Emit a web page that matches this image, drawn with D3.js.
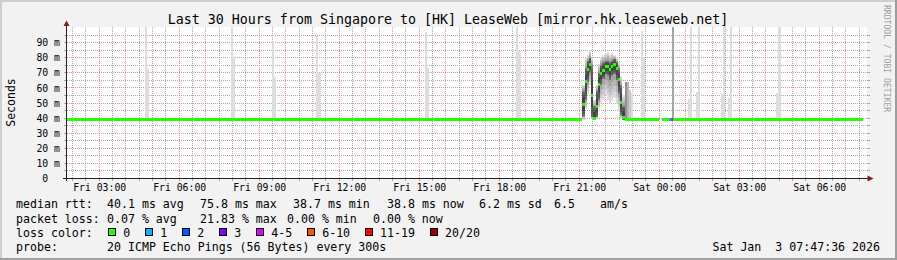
<!DOCTYPE html>
<html>
<head>
<meta charset="utf-8">
<script src="https://cdn.jsdelivr.net/npm/d3@7"></script>
<style>
  html, body { margin: 0; padding: 0; background: #f2f2f2; }
  svg { display: block; font-family: "DejaVu Sans Mono", monospace; }
  text { white-space: pre; }
</style>
</head>
<body>
<svg id="chart" width="897" height="260"></svg>
<script>
// ---- values ----
var title = "Last 30 Hours from Singapore to [HK] LeaseWeb [mirror.hk.leaseweb.net]";
var graphStart = "Fri 01:47:36", graphEnd = "Sat 07:47:36";

var yTicks = [0, 10, 20, 30, 40, 50, 60, 70, 80, 90];
var xTickLabels = ["Fri 03:00", "Fri 06:00", "Fri 09:00", "Fri 12:00", "Fri 15:00",
                   "Fri 18:00", "Fri 21:00", "Sat 00:00", "Sat 03:00", "Sat 06:00"];

// flat stretches of the median (ms) and lost pings per stretch
var runStart  = ["Fri 01:47", "Fri 22:42", "Sat 00:07", "Sat 00:22", "Sat 00:27", "Sat 00:32"];
var runEnd    = ["Fri 21:07", "Sat 00:00", "Sat 00:22", "Sat 00:27", "Sat 00:32", "Sat 07:38"];
var runMedian = [38.8, 38.8, 38.8, 38.8, 38.8, 38.8];
var runLoss   = [0, 0, 0, 1, 5, 0];

// the congestion in the evening, one entry per 5 minute step (ms)
var bumpTimes  = ["Fri 21:07", "Fri 21:12", "Fri 21:17", "Fri 21:22", "Fri 21:27", "Fri 21:32", "Fri 21:37",
                  "Fri 21:42", "Fri 21:47", "Fri 21:52", "Fri 21:57", "Fri 22:02", "Fri 22:07", "Fri 22:12",
                  "Fri 22:17", "Fri 22:22", "Fri 22:27", "Fri 22:32", "Fri 22:37"];
var bumpMedian = [49, 64, 72.5, 75.8, 54.7, 39.7, 47.5, 62.4, 69.5, 71.5, 74.2, 74.2, 72, 74.5, 75.5, 72.7, 65.3, 50.6, 40.6];
var bumpLow    = [38.8, 46, 56, 62, 39.2, 38.8, 39.5, 46, 50, 52, 55, 52, 50, 51, 53, 50, 45, 39.5, 38.8];
var bumpQ1     = [41, 52, 64, 70, 40.5, 38.9, 41, 52, 62, 66, 69, 68, 65, 68, 69, 65, 56, 42, 39];
var bumpQ3     = [58, 73, 78, 80, 75, 48, 58, 70, 75, 77, 78, 78, 77, 78, 79, 77, 73, 62, 48];
var bumpHigh   = [62, 80, 82, 85, 80, 52, 62, 76, 80, 82, 83, 84, 82, 83, 82, 80, 77, 68, 55];

// single steps where some pings came back slow: top of the smoke (ms) and how many pings
var spikeBase  = 38.8;
var spikeTimes = ["Fri 04:43", "Fri 04:48", "Fri 07:56", "Fri 08:01", "Fri 09:28", "Fri 09:33",
                  "Fri 11:08", "Fri 11:13", "Fri 15:13", "Fri 15:18", "Fri 18:38", "Fri 18:43",
                  "Fri 22:42", "Fri 22:47", "Fri 22:52", "Fri 22:57", "Fri 23:18", "Fri 23:23",
                  "Sat 00:28", "Sat 01:04", "Sat 01:09", "Sat 01:22", "Sat 01:27", "Sat 02:18",
                  "Sat 02:23", "Sat 02:34", "Sat 02:39", "Sat 04:23", "Sat 04:28"];
var spikeTops  = [105, 72.6, 105, 80.3, 90.2, 67, 94.6, 69.7, 97.2, 73, 105, 84.6,
                  64.1, 64, 58.6, 56.8, 97.9, 80.7,
                  105, 52.6, 105, 57.5, 105, 56, 105, 53.5, 105, 56.8, 105];
var spikePings = [1, 1, 1, 1, 1, 1, 1, 1, 1, 1, 1, 1,
                  5, 3, 2, 1, 1, 1,
                  4, 1, 1, 1, 1, 1, 1, 1, 1, 1, 1];

// legend
var lossLabels = ["0", "1", "2", "3", "4-5", "6-10", "11-19", "20/20"];
var lossUpper  = [0, 1, 2, 3, 5, 10, 19, 20];
var lossColors = ["#26ff00", "#00b8ff", "#0059ff", "#7e00ff", "#dd00ff", "#ff5500", "#ff0000", "#a10000"];
var rttStats   = ["40.1 ms avg", "75.8 ms max", "38.7 ms min", "38.8 ms now", "6.2 ms sd", "6.5", "am/s"];
var lossStats  = ["0.07 % avg", "21.83 % max", "0.00 % min", "0.00 % now"];
var probeText  = "20 ICMP Echo Pings (56 Bytes) every 300s";
var dateText   = "Sat Jan  3 07:47:36 2026";

// ---- drawing ----
function parseT(s) {
  var p = s.split(" "), hms = p[1].split(":");
  return new Date(2026, 0, p[0] === "Fri" ? 2 : 3, +hms[0], +hms[1], +(hms[2] || 0));
}
function lossColor(n) {
  for (var i = 0; i < lossUpper.length; i++) if (n <= lossUpper[i]) return lossColors[i];
  return lossColors[lossColors.length - 1];
}
function smokeGray(k) { // smokeping shade for band k (1 = outer, 10 = inner)
  var g = Math.round(190 / 10 * (10 - k) + 50);
  return d3.rgb(g, g, g).formatHex();
}

var svg = d3.select("#chart");
var W = 897, H = 260;
var plotL = 67, plotR = 867, plotT = 27, plotB = 178;

var x = d3.scaleTime().domain([parseT(graphStart), parseT(graphEnd)]).range([plotL, plotR]);
var y = d3.scaleLinear().domain([0, 100]).range([178.5, 27.5]);

// background and rrdtool frame
svg.append("rect").attr("width", W).attr("height", H).attr("fill", "#f2f2f2");
svg.append("rect").attr("x", 0).attr("y", 0).attr("width", W).attr("height", 2).attr("fill", "#cfcfcf");
svg.append("rect").attr("x", 0).attr("y", 0).attr("width", 2).attr("height", H).attr("fill", "#cfcfcf");
svg.append("rect").attr("x", 0).attr("y", H - 2).attr("width", W).attr("height", 2).attr("fill", "#9e9e9e");
svg.append("rect").attr("x", W - 2).attr("y", 0).attr("width", 2).attr("height", H).attr("fill", "#9e9e9e");

svg.append("rect").attr("x", plotL).attr("y", plotT).attr("width", plotR - plotL).attr("height", plotB - plotT)
  .attr("fill", "#ffffff");

svg.append("defs").append("clipPath").attr("id", "plot")
  .append("rect").attr("x", plotL).attr("y", plotT).attr("width", plotR - plotL).attr("height", plotB - plotT);

// grid
var gridMinor = "rgba(143,143,143,0.75)", gridMajor = "rgba(222,79,79,0.6)";
var grid = svg.append("g").attr("shape-rendering", "crispEdges");

var halfHours = d3.timeMinute.every(30).range(x.domain()[0], x.domain()[1]);
halfHours.forEach(function (t) {
  var px = Math.floor(x(t)) + 0.5;
  var col = t.getMinutes() === 0 ? gridMajor : gridMinor;
  grid.append("line").attr("x1", px).attr("x2", px).attr("y1", plotT).attr("y2", plotB)
    .attr("stroke", col).attr("stroke-dasharray", "1,1");
  grid.append("line").attr("x1", px).attr("x2", px).attr("y1", plotB).attr("y2", plotB + 3)
    .attr("stroke", col);
});

y.ticks(20).filter(function (v) { return v > 0 && v < 100; }).forEach(function (v) {
  var py = Math.floor(y(v)) + 0.5;
  var col = v % 10 === 0 ? gridMajor : gridMinor;
  grid.append("line").attr("x1", plotL).attr("x2", plotR).attr("y1", py).attr("y2", py)
    .attr("stroke", col).attr("stroke-dasharray", "1,1");
  grid.append("line").attr("x1", plotL - 3).attr("x2", plotL).attr("y1", py).attr("y2", py).attr("stroke", col);
  grid.append("line").attr("x1", plotR).attr("x2", plotR + 3).attr("y1", py).attr("y2", py).attr("stroke", col);
});

// smoke
var smoke = svg.append("g").attr("clip-path", "url(#plot)").attr("shape-rendering", "crispEdges");

spikeTimes.forEach(function (s, i) {
  var t0 = parseT(s), t1 = d3.timeMinute.offset(t0, 5);
  for (var k = 1; k <= spikePings[i]; k++) {
    smoke.append("rect")
      .attr("x", x(t0)).attr("width", x(t1) - x(t0))
      .attr("y", y(spikeTops[i])).attr("height", y(spikeBase) - y(spikeTops[i]))
      .attr("fill", smokeGray(k));
  }
});

bumpTimes.forEach(function (s, i) {
  var t0 = parseT(s), t1 = d3.timeMinute.offset(t0, 5);
  var lo = bumpLow[i], q1 = bumpQ1[i], md = bumpMedian[i], q3 = bumpQ3[i], hi = bumpHigh[i];
  for (var k = 1; k <= 10; k++) {
    var a, b, f;
    if (k <= 5) {
      f = (k - 1) / 4;
      a = lo + (q1 - lo) * f; b = hi + (q3 - hi) * f;
    } else {
      f = Math.pow((k - 5) / 5, 3);
      a = q1 + (md - 0.5 - q1) * f; b = q3 + (md + 0.5 - q3) * f;
    }
    smoke.append("rect")
      .attr("x", x(t0)).attr("width", x(t1) - x(t0))
      .attr("y", y(b)).attr("height", y(a) - y(b))
      .attr("fill", smokeGray(k));
  }
});

// median, coloured by packet loss
var med = svg.append("g").attr("clip-path", "url(#plot)").attr("shape-rendering", "crispEdges");
runStart.forEach(function (s, i) {
  var x0 = x(parseT(s)), x1 = x(parseT(runEnd[i]));
  med.append("rect").attr("x", x0).attr("width", x1 - x0)
    .attr("y", Math.round(y(runMedian[i]) - 1.5)).attr("height", 3)
    .attr("fill", lossColor(runLoss[i]));
});
bumpTimes.forEach(function (s, i) {
  var t0 = parseT(s), t1 = d3.timeMinute.offset(t0, 5);
  med.append("rect").attr("x", x(t0)).attr("width", x(t1) - x(t0))
    .attr("y", Math.round(y(bumpMedian[i]) - 1.5)).attr("height", 3)
    .attr("fill", lossColor(0));
});

// axes
var ax = svg.append("g").attr("shape-rendering", "crispEdges");
ax.append("line").attr("x1", plotL - 4).attr("x2", plotR + 3).attr("y1", plotB + 0.5).attr("y2", plotB + 0.5)
  .attr("stroke", "#1f1f1f");
ax.append("line").attr("x1", plotL - 0.5).attr("x2", plotL - 0.5).attr("y1", plotB + 3).attr("y2", plotT - 2)
  .attr("stroke", "#1f1f1f");
svg.append("polygon").attr("points", [[plotR + 0.5, plotB - 2.5], [plotR + 6.5, plotB + 0.5], [plotR + 0.5, plotB + 3.5]].join(" "))
  .attr("fill", "#801f1f");
svg.append("polygon").attr("points", [[plotL - 3.5, plotT - 1], [plotL - 0.5, plotT - 6.5], [plotL + 2.5, plotT - 1]].join(" "))
  .attr("fill", "#801f1f");

var xAxis = d3.axisBottom(x)
  .tickValues(xTickLabels.map(parseT))
  .tickFormat(d3.timeFormat("%a %H:%M"))
  .tickSize(0).tickPadding(5.7);
svg.append("g").attr("transform", "translate(0," + plotB + ")").call(xAxis)
  .attr("font-family", null).attr("font-size", "9.8px")
  .call(function (g) { g.select(".domain").remove(); })
  .selectAll("text").attr("fill", "#000");

var yAxis = d3.axisLeft(y)
  .tickValues(yTicks)
  .tickFormat(function (v) { return v === 0 ? "0  " : v + " m"; })
  .tickSize(0).tickPadding(6);
svg.append("g").attr("transform", "translate(" + (plotL - 1) + ",0)").call(yAxis)
  .attr("font-family", null).attr("font-size", "9.8px")
  .call(function (g) { g.select(".domain").remove(); })
  .selectAll("text").attr("fill", "#000");

// titles
svg.append("text").attr("x", 448).attr("y", 24).attr("text-anchor", "middle")
  .attr("font-size", "13.3px").text(title);
svg.append("text").attr("transform", "translate(15,102.5) rotate(-90)").attr("text-anchor", "middle")
  .attr("font-size", "11.5px").text("Seconds");
svg.append("text").attr("transform", "translate(884,5) rotate(90)")
  .attr("font-size", "8.1px").attr("fill", "#a0a0a0").text("RRDTOOL / TOBI OETIKER");

// legend
var lg = svg.append("g").attr("font-size", "11.6px");
var rows = [208.3, 222.5, 236.6, 250.7];
var cw = 11.6 * 0.602;

lg.append("text").attr("x", 16).attr("y", rows[0]).text("median rtt:");
var rttX = [107, 200, 293, 387, 479, 554, 600];
rttStats.forEach(function (s, i) { lg.append("text").attr("x", rttX[i]).attr("y", rows[0]).text(s); });

lg.append("text").attr("x", 16).attr("y", rows[1]).text("packet loss:");
var lossX = [107, 200, 287, 373];
lossStats.forEach(function (s, i) { lg.append("text").attr("x", lossX[i]).attr("y", rows[1]).text(s); });

lg.append("text").attr("x", 16).attr("y", rows[2]).text("loss color:");
var bx = 108.3;
lossLabels.forEach(function (s, i) {
  lg.append("rect").attr("x", Math.round(bx) + 0.5).attr("y", 228.5).attr("width", 7).attr("height", 7)
    .attr("fill", lossColors[i]).attr("stroke", "#000").attr("shape-rendering", "crispEdges");
  lg.append("text").attr("x", bx + 15).attr("y", rows[2]).text(s);
  bx += 15 + s.length * cw + 15;
});

lg.append("text").attr("x", 16).attr("y", rows[3]).text("probe:");
lg.append("text").attr("x", 107).attr("y", rows[3]).text(probeText);
lg.append("text").attr("x", 880).attr("y", rows[3]).attr("text-anchor", "end").text(dateText);
</script>
</body>
</html>
